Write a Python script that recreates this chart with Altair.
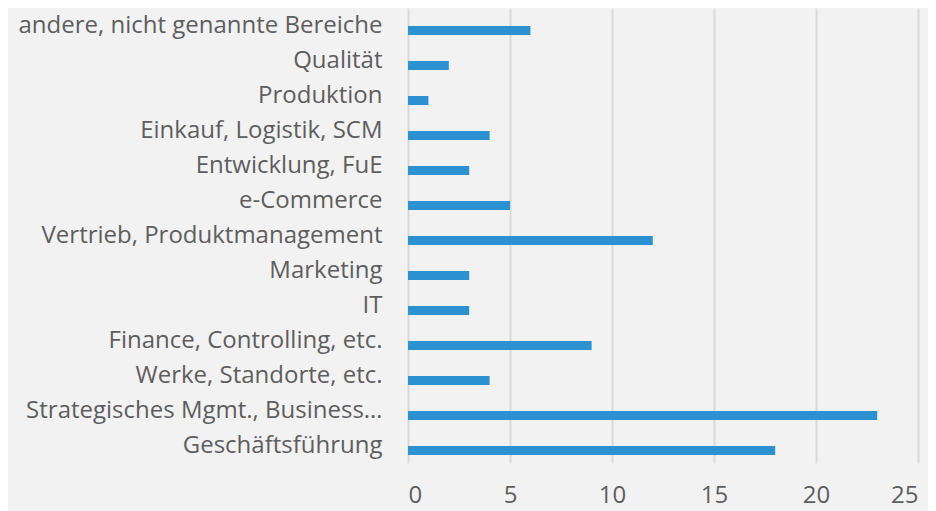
import altair as alt
import pandas as pd

categories = [
    "andere, nicht genannte Bereiche",
    "Qualität",
    "Produktion",
    "Einkauf, Logistik, SCM",
    "Entwicklung, FuE",
    "e-Commerce",
    "Vertrieb, Produktmanagement",
    "Marketing",
    "IT",
    "Finance, Controlling, etc.",
    "Werke, Standorte, etc.",
    "Strategisches Mgmt., Business…",
    "Geschäftsführung",
]
values = [6, 2, 1, 4, 3, 5, 12, 3, 3, 9, 4, 23, 18]
x_ticks = [0, 5, 10, 15, 20, 25]

df = pd.DataFrame({"Bereich": categories, "Anzahl": values})

chart = (
    alt.Chart(df)
    .mark_bar(color="#2B91D1", size=9, yOffset=5)
    .encode(
        x=alt.X(
            "Anzahl:Q",
            scale=alt.Scale(domain=[0, 25], nice=False),
            axis=alt.Axis(
                values=x_ticks,
                title=None,
                domain=False,
                ticks=False,
                grid=True,
                gridColor="#D9D9D9",
                gridWidth=2,
                labelFont="Open Sans",
                labelFontSize=24,
                labelColor="#5E5E5E",
                labelPadding=20,
            ),
        ),
        y=alt.Y(
            "Bereich:N",
            sort=categories,
            scale=alt.Scale(paddingInner=0, paddingOuter=0),
            axis=alt.Axis(
                title=None,
                domain=False,
                ticks=False,
                labelFont="Open Sans",
                labelFontSize=24,
                labelColor="#5E5E5E",
                labelPadding=26,
                labelLimit=400,
            ),
        ),
    )
    .properties(
        width=510,
        height=455,
        background="#F2F2F2",
        padding={"left": 400, "top": 0, "right": 10, "bottom": 56},
        autosize=alt.AutoSizeParams(type="none"),
    )
    .configure_view(stroke=None)
)

chart.save("out.html", embed_options={"renderer": "svg", "actions": False})
